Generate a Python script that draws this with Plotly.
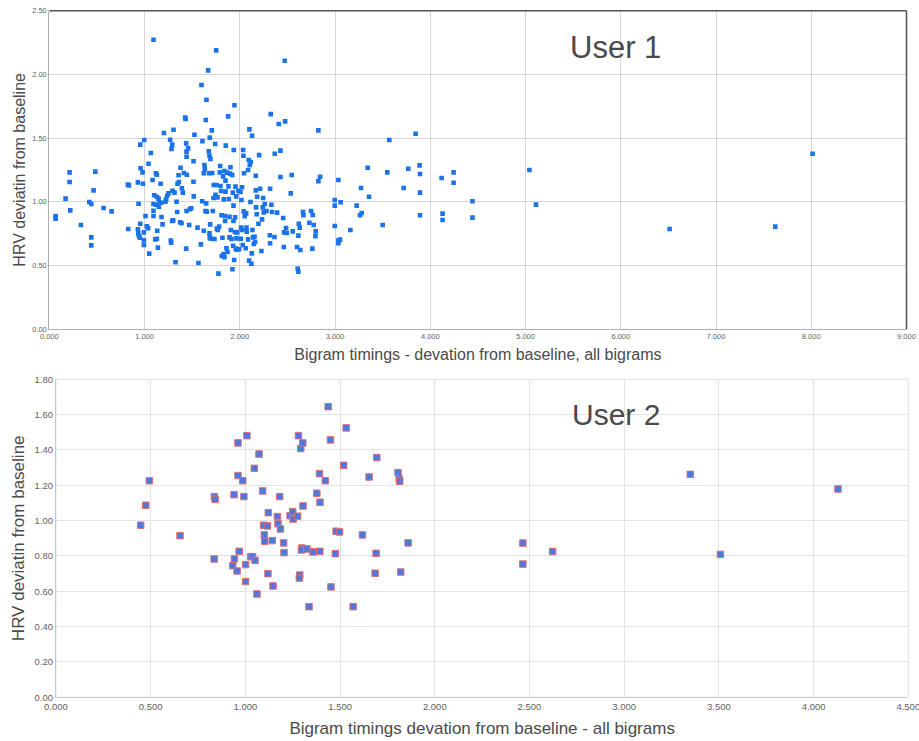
import plotly.graph_objects as go

# ---------------- User 1 data ----------------
user1_x = [
    0.066, 0.066, 0.171, 0.213, 0.213, 0.220, 0.332, 0.420, 0.441, 0.441, 0.441, 0.465, 0.483, 0.570, 0.654,
    0.825, 0.836, 0.829,
    0.937, 0.930, 0.930, 0.934, 0.941, 0.951, 0.955, 0.958, 0.955, 0.979, 0.983, 0.993, 0.993, 0.997, 0.993,
    1.010, 1.024, 1.038, 1.042, 1.049, 1.066, 1.084, 1.094, 1.094, 1.094, 1.094, 1.101, 1.112, 1.119, 1.129,
    1.122, 1.129, 1.133, 1.129, 1.140, 1.147, 1.150, 1.157, 1.168, 1.175, 1.178, 1.189, 1.203, 1.220, 1.227,
    1.238, 1.252, 1.269, 1.283, 1.290, 1.276, 1.280, 1.290, 1.294, 1.301, 1.304, 1.315, 1.325, 1.336, 1.343,
    1.346, 1.357, 1.360, 1.374, 1.378, 1.388, 1.392, 1.402, 1.413, 1.427, 1.430, 1.437, 1.441, 1.441, 1.444,
    1.441, 1.437, 1.458, 1.469, 1.476, 1.490, 1.514, 1.514, 1.517, 1.524, 1.556, 1.566, 1.591, 1.598, 1.605,
    1.608, 1.622, 1.622, 1.629, 1.633, 1.640, 1.643, 1.647, 1.650, 1.654, 1.668, 1.675, 1.678, 1.682, 1.685,
    1.692, 1.682, 1.689, 1.685, 1.696, 1.706, 1.710, 1.717, 1.724, 1.727, 1.734, 1.741, 1.745, 1.752, 1.755,
    1.759, 1.766, 1.769, 1.776, 1.783, 1.790, 1.794, 1.797, 1.804, 1.808, 1.811, 1.818, 1.825, 1.829, 1.832,
    1.839, 1.839, 1.843, 1.846, 1.850, 1.850, 1.853, 1.860, 1.867, 1.871, 1.878, 1.881, 1.885, 1.892, 1.892,
    1.899, 1.902, 1.906, 1.913, 1.920, 1.923, 1.927, 1.930, 1.934, 1.934, 1.937, 1.941, 1.944, 1.948, 1.951,
    1.955, 1.958, 1.962, 1.965, 1.969, 1.972,
    1.986, 1.993, 2.007, 2.010, 2.014, 2.017, 2.024, 2.024, 2.031, 2.035, 2.038, 2.042, 2.045, 2.052, 2.063,
    2.066, 2.070, 2.073, 2.087, 2.087, 2.094, 2.098, 2.101, 2.105, 2.112, 2.115, 2.122, 2.126, 2.129, 2.133,
    2.140, 2.147, 2.154, 2.161, 2.168, 2.168, 2.171, 2.178, 2.182, 2.196, 2.203, 2.213, 2.227, 2.234, 2.241,
    2.245, 2.252, 2.262, 2.280, 2.315, 2.318, 2.318, 2.325, 2.332, 2.339, 2.364, 2.367, 2.392, 2.409, 2.427,
    2.427, 2.455, 2.462, 2.465, 2.472, 2.476, 2.486, 2.493, 2.535, 2.545, 2.556, 2.601, 2.608, 2.615, 2.619,
    2.615, 2.629, 2.636, 2.664, 2.668, 2.731, 2.748, 2.762, 2.766, 2.776, 2.797, 2.794, 2.825, 2.825, 2.843,
    2.997, 2.997, 2.997, 3.035, 3.035, 3.035, 3.052, 3.059, 3.161, 3.227, 3.262, 3.280, 3.273, 3.343, 3.357,
    3.500, 3.549, 3.570, 3.720, 3.769, 3.846, 3.888, 3.892, 3.892, 3.892, 4.119, 4.129, 4.129, 4.245, 4.245,
    4.443, 4.443, 5.041, 5.110, 6.513, 7.622, 8.014,
]
user1_y = [
    0.887, 0.866, 1.024, 1.230, 1.154, 0.932, 0.817, 0.997, 0.982, 0.720, 0.657, 1.089, 1.236, 0.950, 0.924,
    1.134, 1.128, 0.785,
    0.984, 1.152, 0.783, 0.751, 0.730, 0.717, 1.448, 1.262, 0.827, 1.230, 1.141, 0.696, 0.660, 1.484, 0.759,
    0.887, 0.806, 0.791, 1.298, 0.592, 1.382, 1.170, 2.272, 0.929, 0.982, 0.887, 1.050, 0.704, 1.223, 1.212,
    0.976, 1.039, 0.772, 0.709, 0.639, 1.024, 0.961, 0.992, 1.141, 0.992, 0.880, 0.822, 1.539, 1.000, 1.018,
    1.047, 1.065, 1.487, 1.414, 1.448, 0.694, 0.678, 0.848, 1.086, 0.853, 1.565, 1.071, 0.524, 1.000, 0.919,
    1.141, 1.207, 1.154, 0.838, 1.267, 0.830, 1.105, 1.071, 1.225, 1.660, 1.649, 1.458, 1.393, 1.353, 1.212,
    0.927, 0.631, 1.419, 0.817, 0.940, 0.948, 1.317, 1.157, 1.042, 1.526, 0.796, 0.518, 0.665, 1.916, 1.003,
    1.476, 1.223, 0.772, 1.288, 1.257, 0.927, 1.641, 0.987, 1.801, 0.921, 2.031, 1.395, 1.223, 1.361, 1.503,
    1.335, 0.751, 0.822, 0.720, 0.709, 1.560, 1.225, 0.927, 1.029, 1.131, 0.707, 1.453, 1.055, 2.188, 1.131,
    0.788, 1.034, 0.777, 0.435, 0.804, 1.230, 1.280, 1.123, 1.084, 0.893, 0.573, 0.717, 1.199, 0.589, 1.018,
    1.241, 0.563, 0.887, 0.848, 1.165, 1.079, 1.440, 0.634, 1.228, 0.605, 1.670, 1.120, 1.021, 0.720, 0.882,
    1.220, 1.270, 0.777, 0.707, 1.209, 0.469, 1.071, 0.654, 0.848, 0.969, 1.406, 0.542, 1.757, 0.762, 0.877,
    1.118, 0.631, 1.042, 0.712, 0.623, 0.759,
    1.086, 0.626, 1.076, 0.709, 0.796, 1.013, 1.113, 0.777, 0.660, 1.406, 1.361, 0.924, 1.223, 0.885, 0.634,
    0.908, 0.796, 0.764, 1.249, 0.704, 1.327, 0.537, 1.568, 1.288, 0.997, 1.312, 0.513, 0.594, 1.518, 0.777,
    0.720, 0.668, 0.725, 0.683, 1.204, 1.089, 0.955, 0.901, 1.039, 0.827, 1.366, 1.102, 0.613, 0.861, 0.955,
    1.029, 0.916, 0.982, 0.927, 0.736, 1.102, 0.673, 1.688, 0.976, 0.919, 0.723, 1.377, 0.914, 1.610, 1.401,
    1.194, 0.872, 0.644, 0.759, 2.107, 1.631, 0.793, 0.754, 1.065, 1.209, 0.767, 0.644, 0.474, 0.450, 0.827,
    0.733, 0.796, 0.620, 0.919, 0.893, 0.835, 0.927, 0.631, 0.895, 0.817, 0.767, 0.728, 1.560, 1.160, 1.196,
    1.013, 0.969, 0.809, 1.170, 0.694, 0.673, 0.702, 0.995, 0.777, 0.969, 0.893, 0.911, 1.107, 1.267, 1.039,
    0.817, 1.230, 1.484, 1.107, 1.259, 1.534, 1.285, 1.217, 1.071, 0.893, 1.186, 0.906, 0.856, 1.230, 1.149,
    1.003, 0.875, 1.249, 0.977, 0.786, 0.804, 1.377,
]

# ---------------- User 2 data ----------------
user2_x = [
    0.447, 0.474, 0.493, 0.655, 0.836, 0.840, 0.835, 0.933, 0.942, 0.940, 0.956, 0.961, 0.961, 0.967, 0.986,
    0.992, 1.001, 1.001, 1.008, 1.028, 1.038, 1.047, 1.051, 1.061, 1.072, 1.091, 1.096, 1.100, 1.102, 1.116,
    1.119, 1.121, 1.142, 1.146, 1.169, 1.172, 1.181, 1.185, 1.202, 1.204, 1.236, 1.250, 1.252, 1.276, 1.280,
    1.287, 1.285, 1.292, 1.299, 1.296, 1.303, 1.304, 1.325, 1.336, 1.357, 1.377, 1.391, 1.393, 1.394, 1.422,
    1.437, 1.449, 1.452, 1.475, 1.479, 1.497, 1.519, 1.532, 1.569, 1.618, 1.653, 1.685, 1.690, 1.694, 1.806,
    1.812, 1.815, 1.820, 1.859, 2.465, 2.465, 2.622, 3.349, 3.508, 4.129,
]
user2_y = [
    0.974, 1.087, 1.226, 0.915, 1.136, 1.121, 0.783, 0.745, 0.783, 1.147, 0.715, 1.440, 1.255, 0.826, 1.226,
    1.136, 0.751, 0.655, 1.481, 0.796, 0.796, 1.296, 0.775, 0.585, 1.377, 1.168, 0.974, 0.919, 0.883, 0.970,
    0.700, 1.045, 0.887, 0.630, 1.023, 0.983, 1.136, 0.953, 0.874, 0.819, 1.028, 1.051, 1.009, 1.025, 1.481,
    0.692, 0.675, 1.408, 0.845, 0.834, 1.440, 1.083, 0.840, 0.513, 0.823, 1.155, 1.266, 0.826, 1.104, 1.226,
    1.645, 1.457, 0.625, 0.813, 0.940, 0.936, 1.313, 1.525, 0.513, 0.919, 1.247, 0.702, 0.815, 1.357, 1.272,
    1.236, 1.223, 0.709, 0.874, 0.873, 0.754, 0.825, 1.262, 0.809, 1.179,
]

W, H = 919, 741


def px_x(p):
    return p / W


def px_y(p):
    return 1 - p / H


FONT = "Liberation Sans, Arial, sans-serif"
TXT = "#4a4a4a"
TICK = "#5f5f5f"

fig = go.Figure()

fig.add_trace(go.Scatter(
    x=user1_x, y=user1_y, mode="markers", name="User 1",
    marker=dict(symbol="square", size=4.6, color="#1a73e8", line=dict(width=0)),
    xaxis="x", yaxis="y", showlegend=False,
))
fig.add_trace(go.Scatter(
    x=user2_x, y=user2_y, mode="markers", name="User 2",
    marker=dict(symbol="square", size=6.5, color="#4d78e2",
                line=dict(width=1, color="#e07070")),
    xaxis="x2", yaxis="y2", showlegend=False,
))

top_x = [49.3, 906.5]
top_y = [10.7, 329.0]
bot_x = [56.0, 908.3]
bot_y = [379.3, 697.3]

fig.update_layout(
    width=W, height=H,
    margin=dict(l=0, r=0, t=0, b=0),
    paper_bgcolor="white", plot_bgcolor="white",
    font=dict(family=FONT, color=TXT),
    xaxis=dict(
        domain=[px_x(top_x[0]), px_x(top_x[1])], anchor="y",
        range=[0, 9], dtick=1, tick0=0, tickformat=".3f",
        showgrid=True, gridcolor="#d6d6d6", gridwidth=1,
        zeroline=False, showline=True, linecolor="#b0b0b0", linewidth=1,
        tickfont=dict(size=7.5, color=TICK, family=FONT), ticks="",
        ticklabeloverflow="allow",
        title=dict(text="Bigram timings - devation from baseline, all bigrams",
                   font=dict(size=16, color=TXT, family=FONT), standoff=8),
        automargin=False, fixedrange=True,
    ),
    yaxis=dict(
        domain=[px_y(top_y[1]), px_y(top_y[0])], anchor="x",
        range=[0, 2.5], dtick=0.5, tick0=0, tickformat=".2f",
        showgrid=True, gridcolor="#d6d6d6", gridwidth=1,
        zeroline=False, showline=True, linecolor="#b0b0b0", linewidth=1,
        tickfont=dict(size=7.5, color=TICK, family=FONT), ticks="",
        ticklabeloverflow="allow",
        title=dict(text="HRV deviatin from baseline",
                   font=dict(size=16, color=TXT, family=FONT), standoff=2),
        automargin=False, fixedrange=True,
    ),
    xaxis2=dict(
        domain=[px_x(bot_x[0]), px_x(bot_x[1])], anchor="y2",
        range=[0, 4.5], dtick=0.5, tick0=0, tickformat=".3f",
        showgrid=True, gridcolor="#e4e4e4", gridwidth=1,
        zeroline=False, showline=True, linecolor="#c8c8c8", linewidth=1,
        tickfont=dict(size=9.5, color=TICK, family=FONT), ticks="",
        ticklabeloverflow="allow",
        title=dict(text="Bigram timings devation from baseline - all bigrams",
                   font=dict(size=17, color=TXT, family=FONT), standoff=11),
        automargin=False, fixedrange=True,
    ),
    yaxis2=dict(
        domain=[px_y(bot_y[1]), px_y(bot_y[0])], anchor="x2",
        range=[0, 1.8], dtick=0.2, tick0=0, tickformat=".2f",
        showgrid=True, gridcolor="#e4e4e4", gridwidth=1,
        zeroline=False, showline=True, linecolor="#c8c8c8", linewidth=1,
        tickfont=dict(size=9.5, color=TICK, family=FONT), ticks="",
        ticklabeloverflow="allow",
        title=dict(text="HRV deviatin from baseline",
                   font=dict(size=17, color=TXT, family=FONT), standoff=5),
        automargin=False, fixedrange=True,
    ),
    annotations=[
        dict(text="User 1", x=px_x(615), y=px_y(47.5), xref="paper", yref="paper",
             xanchor="center", yanchor="middle", showarrow=False,
             font=dict(size=31, color=TXT, family=FONT)),
        dict(text="User 2", x=px_x(616), y=px_y(414), xref="paper", yref="paper",
             xanchor="center", yanchor="middle", showarrow=False,
             font=dict(size=30, color=TXT, family=FONT)),
    ],
    shapes=[
        # darker frame on the top and right edges of the upper chart
        dict(type="line", xref="paper", yref="paper",
             x0=px_x(top_x[0]), x1=px_x(top_x[1]), y0=px_y(top_y[0]), y1=px_y(top_y[0]),
             line=dict(color="#555555", width=1.5)),
        dict(type="line", xref="paper", yref="paper",
             x0=px_x(top_x[1]), x1=px_x(top_x[1]), y0=px_y(top_y[0]), y1=px_y(top_y[1]),
             line=dict(color="#555555", width=1.5)),
        # light frame on the lower chart
        dict(type="rect", xref="paper", yref="paper",
             x0=px_x(bot_x[0]), x1=px_x(bot_x[1]), y0=px_y(bot_y[1]), y1=px_y(bot_y[0]),
             line=dict(color="#e0e0e0", width=1), layer="below"),
    ],
)

# Remove the browser's default 8px body margin so the figure fills the window.
fig.write_html("out.html", config={"displayModeBar": False},
               post_script="document.body.style.margin='0px';")
